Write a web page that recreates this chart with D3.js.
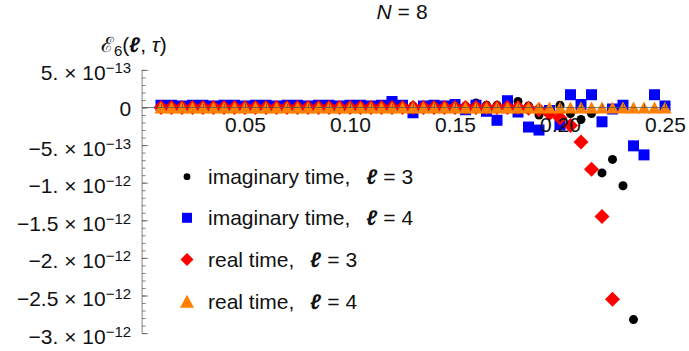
<!DOCTYPE html>
<html>
<head>
<meta charset="utf-8">
<script src="https://cdn.jsdelivr.net/npm/d3@7"></script>
<style>
  body { margin: 0; background: #fff; }
  text { font-family: "Liberation Sans", Arial, sans-serif; fill: #111; }
</style>
</head>
<body>
<script>
const width = 689;
const height = 351;

// x values (tau)
const tau = [0.010, 0.015, 0.020, 0.025, 0.030, 0.035, 0.040, 0.045, 0.050, 0.055,
             0.060, 0.065, 0.070, 0.075, 0.080, 0.085, 0.090, 0.095, 0.100, 0.105,
             0.110, 0.115, 0.120, 0.125, 0.130, 0.135, 0.140, 0.145, 0.150, 0.155,
             0.160, 0.165, 0.170, 0.175, 0.180, 0.185, 0.190, 0.195, 0.200, 0.205,
             0.210, 0.215, 0.220, 0.225, 0.230, 0.235, 0.240, 0.245, 0.250];

// series values, in units of 1e-13 (null = off the plot range)
const imag3 = [0.0, 0.0, 0.0, 0.0, 0.0, 0.0, 0.0, 0.0, 0.0, 0.0,
               0.0, 0.0, 0.0, 0.0, 0.0, 0.0, 0.0, 0.1, 0.0, 0.1,
               0.0, 0.1, 0.0, 0.1, 0.2, 0.1, 0.2, 0.3, 0.5, 0.2,
               0.6, 0.3, 0.3, 0.9, 0.8, 0.2, -1.0, -0.5, 0.3, -0.8,
               -1.6, -0.8, -8.7, -6.9, -10.4, -28.2, null, null, null];
const imag4 = [0.3, 0.3, 0.2, 0.3, 0.3, 0.2, 0.3, 0.3, 0.2, 0.3,
               0.3, 0.2, 0.3, 0.3, 0.2, 0.3, 0.3, 0.2, 0.3, 0.3,
               0.2, 0.3, 0.8, 0.3, -0.7, 0.2, 0.3, 0.2, 0.4, -0.3,
               0.3, -0.5, -1.7, 0.9, -0.6, -2.6, -3.0, -0.4, -2.3, 1.7,
               0.4, 1.7, -1.9, -0.2, 0.3, -5.1, -6.3, 1.7, 0.2];
const real3 = [0.0, 0.0, 0.0, 0.0, 0.0, 0.0, 0.0, 0.0, 0.0, 0.0,
               0.0, 0.0, 0.0, 0.0, 0.0, 0.0, 0.0, 0.0, 0.0, 0.0,
               0.0, 0.0, 0.0, 0.0, 0.0, 0.0, 0.0, 0.0, 0.0, 0.0,
               0.0, 0.0, 0.0, 0.0, 0.0, -0.1, -0.3, -0.8, -1.4, -2.4,
               -4.6, -8.2, -14.5, -25.5, null, null, null, null, null];
const real4 = [0.0, 0.0, 0.0, 0.0, 0.0, 0.0, 0.0, 0.0, 0.0, 0.0,
               0.0, 0.0, 0.0, 0.0, 0.0, 0.0, 0.0, 0.0, 0.0, 0.0,
               0.0, 0.0, 0.0, 0.0, 0.0, 0.0, 0.0, 0.0, 0.0, 0.0,
               0.0, 0.0, 0.0, 0.0, 0.0, 0.0, 0.0, 0.0, 0.0, 0.0,
               0.0, 0.0, 0.0, 0.0, 0.0, 0.0, 0.0, 0.0, 0.0];
const unit = 1e-13;

const seriesNames = ["imaginary time,", "imaginary time,", "real time,", "real time,"];
const seriesEll = ["3", "4", "3", "4"];
const seriesColors = ["#000000", "#0000ff", "#ff0000", "#ff8000"];
const seriesShapes = ["circle", "square", "diamond", "triangle"];

const xTicks = [0.05, 0.10, 0.15, 0.20, 0.25];
const xTickLabels = ["0.05", "0.10", "0.15", "0.20", "0.25"];
const yTicks = [5e-13, 0, -5e-13, -1e-12, -1.5e-12, -2e-12, -2.5e-12, -3e-12];
const yTickMantissa = ["5.", "0", "\u22125.", "\u22121.", "\u22121.5", "\u22122.", "\u22122.5", "\u22123."];
const yTickExp = ["\u221213", "", "\u221213", "\u221212", "\u221212", "\u221212", "\u221212", "\u221212"];

const x = d3.scaleLinear().domain([0, 0.25]).range([140, 665]);
const y = d3.scaleLinear().domain([-3e-12, 5e-13]).range([333.1, 69.9]);
const xOrigin = 0.001;
const xEnd = 0.2514;

const svg = d3.select("body").append("svg")
  .attr("width", width).attr("height", height)
  .attr("xmlns", "http://www.w3.org/2000/svg");

function shapePath(shape, s) {
  if (shape === "circle") return d3.symbol(d3.symbolCircle, Math.PI * s * s)();
  if (shape === "square") return `M${-s},${-s}H${s}V${s}H${-s}Z`;
  if (shape === "diamond") return `M0,${-s}L${s},0L0,${s}L${-s},0Z`;
  return `M0,${-s * 0.92}L${s},${s * 0.92}L${-s},${s * 0.92}Z`;
}
const markSize = { circle: 4.5, square: 5.5, diamond: 7.5, triangle: 6.5 };
const legendSize = { circle: 3.4, square: 5, diamond: 6.5, triangle: 7 };

// data points
const allSeries = [imag3, imag4, real3, real4];
allSeries.forEach((vals, k) => {
  const pts = tau.map((t, i) => ({ t: t, v: vals[i] })).filter(d => d.v !== null);
  svg.append("g").selectAll("path")
    .data(pts)
    .enter()
    .append("path")
    .attr("d", shapePath(seriesShapes[k], markSize[seriesShapes[k]]))
    .attr("fill", seriesColors[k])
    .attr("transform", d => `translate(${x(d.t)},${y(d.v * unit)})`);
});

// axes (drawn in front)
const axisColor = "#555";
const axes = svg.append("g").attr("stroke-opacity", 0.75);

axes.append("line")
  .attr("x1", x(xOrigin)).attr("x2", x(xEnd))
  .attr("y1", y(0)).attr("y2", y(0))
  .attr("stroke", axisColor);
axes.append("line")
  .attr("x1", x(xOrigin)).attr("x2", x(xOrigin))
  .attr("y1", y(5e-13)).attr("y2", y(-3e-12))
  .attr("stroke", axisColor);

// x ticks point up, labels below
const xMinor = axes.append("g").attr("transform", `translate(0,${y(0)})`)
  .call(d3.axisBottom(x).tickValues(d3.range(1, 26).map(i => i / 100)).tickSizeInner(-3.5).tickSizeOuter(0).tickFormat(""));
const xMajor = axes.append("g").attr("transform", `translate(0,${y(0)})`)
  .call(d3.axisBottom(x).tickValues(xTicks).tickSizeInner(-6).tickSizeOuter(0).tickPadding(10)
    .tickFormat((d, i) => xTickLabels[i]));
[xMinor, xMajor].forEach(g => {
  g.select(".domain").remove();
  g.selectAll(".tick line").attr("stroke", axisColor);
});
xMajor.selectAll(".tick text")
  .attr("font-size", 21).attr("fill", "#111")
  .attr("font-family", "Liberation Sans, Arial, sans-serif");

// y ticks point right, labels left
const yMinor = axes.append("g").attr("transform", `translate(${x(xOrigin)},0)`)
  .call(d3.axisLeft(y).tickValues(d3.range(-30, 6).map(i => i * 1e-13)).tickSizeInner(-3.5).tickSizeOuter(0).tickFormat(""));
const yMajor = axes.append("g").attr("transform", `translate(${x(xOrigin)},0)`)
  .call(d3.axisLeft(y).tickValues(yTicks).tickSizeInner(-6).tickSizeOuter(0).tickPadding(11).tickFormat(""));
[yMinor, yMajor].forEach(g => {
  g.select(".domain").remove();
  g.selectAll(".tick line").attr("stroke", axisColor);
});
yMajor.selectAll(".tick text").each(function (d, i) {
  const t = d3.select(this)
    .attr("font-size", 21).attr("fill", "#111")
    .attr("font-family", "Liberation Sans, Arial, sans-serif");
  if (yTickExp[i] === "") {
    t.attr("dy", "0.36em").text(yTickMantissa[i]);
  } else {
    t.attr("dy", "0.48em").text(null);
    t.append("tspan").text(yTickMantissa[i] + " \u00d7 10");
    t.append("tspan").attr("font-size", 15).attr("dy", -7).text(yTickExp[i]);
  }
});

// title
const title = svg.append("text")
  .attr("x", 402).attr("y", 19)
  .attr("text-anchor", "middle")
  .attr("font-size", 21);
title.append("tspan").attr("font-style", "italic").text("N");
title.append("tspan").attr("dx", 6).text("=");
title.append("tspan").attr("dx", 6).text("8");
title.selectAll("tspan").filter((d, i) => i > 0).attr("xml:space", "preserve");

// y label
const ylab = svg.append("text").attr("x", 101).attr("y", 52).attr("font-size", 21);
ylab.append("tspan").text("\u2130");
ylab.append("tspan").attr("font-size", 15).attr("dy", 4).text("6");
ylab.append("tspan").attr("dy", -4).text("(");
ylab.append("tspan").attr("font-style", "italic").attr("font-weight", "bold").text("\u2113");
ylab.append("tspan").text(", ");
ylab.append("tspan").attr("font-style", "italic").text("\u03c4");
ylab.append("tspan").text(")");

// legend
const legend = svg.append("g");
const legendY = [176.7, 217.8, 259.5, 301.2];
seriesNames.forEach((name, k) => {
  legend.append("path")
    .attr("d", shapePath(seriesShapes[k], legendSize[seriesShapes[k]]))
    .attr("fill", seriesColors[k])
    .attr("transform", `translate(187,${legendY[k]})`);
  const t = legend.append("text")
    .attr("x", 208).attr("y", legendY[k] + 7.5)
    .attr("font-size", 21);
  t.append("tspan").text(name);
  t.append("tspan").attr("dx", 16).attr("font-style", "italic").attr("font-weight", "bold").text("\u2113");
  t.append("tspan").attr("dx", 6).text("=");
  t.append("tspan").attr("dx", 6).text(seriesEll[k]);
});
</script>
</body>
</html>
